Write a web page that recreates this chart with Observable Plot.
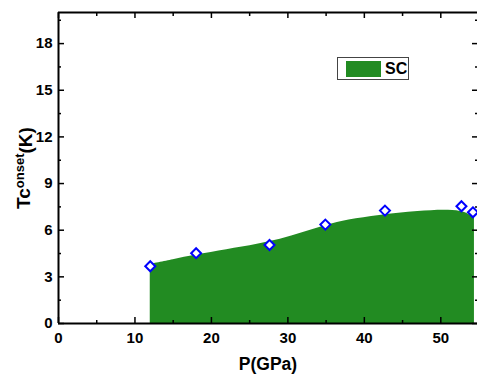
<!DOCTYPE html>
<html>
<head>
<meta charset="utf-8">
<script src="https://cdn.jsdelivr.net/npm/d3@7"></script>
<script src="https://cdn.jsdelivr.net/npm/@observablehq/plot@0.6"></script>
<style>
  body { margin: 0; background: #fff; }
  #wrap { position: relative; width: 477px; height: 376px; font-family: "Liberation Sans", Arial, sans-serif; }
  #legend { position: absolute; left: 337px; top: 57px; width: 72px; height: 23px; border: 1px solid #444; background: #fff; box-sizing: border-box; }
  #legend .sw { position: absolute; left: 8px; top: 3px; width: 35px; height: 16px; background: #228B22; }
  #legend .lb { position: absolute; left: 47px; top: 2px; font-weight: bold; font-size: 16px; line-height: 18px; color: #000; }
</style>
</head>
<body>
<div id="wrap"><div id="legend"><div class="sw"></div><div class="lb">SC</div></div></div>
<script>
// Measured points (diamonds)
const pressure = [12, 18, 27.6, 34.9, 42.7, 52.7, 54.2];
const tcOnset = [3.68, 4.52, 5.05, 6.36, 7.26, 7.54, 7.15];
// SC region boundary (green area)
const scP = [12, 15, 18, 22, 26, 29, 32, 35, 38, 42, 47, 51, 53, 54.4];
const scTc = [3.8, 4.1, 4.4, 4.75, 5.1, 5.42, 5.85, 6.3, 6.65, 6.95, 7.2, 7.28, 7.15, 6.8];
// Axis ticks
const xMajor = [0, 10, 20, 30, 40, 50];
const xMinor = [5, 15, 25, 35, 45];
const yMajor = [0, 3, 6, 9, 12, 15, 18];
const yMinor = [1.5, 4.5, 7.5, 10.5, 13.5, 16.5, 19.5];

const points = pressure.map((p, i) => ({P: p, Tc: tcOnset[i]}));
const area = scP.map((p, i) => ({P: p, Tc: scTc[i]}));
const blank = () => "";
const font = {fontSize: 15, fontWeight: "bold"};

const chart = Plot.plot({
  width: 477,
  height: 376,
  marginLeft: 58,
  marginRight: 0,
  marginTop: 12,
  marginBottom: 53,
  x: {domain: [0, 54.8]},
  y: {domain: [0, 20]},
  style: {fontFamily: "'Liberation Sans', Arial, sans-serif", color: "#000", background: "#fff"},
  marks: [
    Plot.areaY(area, {x: "P", y1: 0, y2: "Tc", fill: "#228B22", curve: "catmull-rom"}),
    // bottom axis
    Plot.axisX(xMajor, {anchor: "bottom", tickSize: -6, tickPadding: 15, strokeWidth: 1.5, label: null, ...font}),
    Plot.axisX(xMinor, {anchor: "bottom", tickSize: -3, strokeWidth: 1.5, tickFormat: blank, label: null}),
    // top axis
    Plot.axisX(xMajor, {anchor: "top", tickSize: -5, strokeWidth: 1.5, tickFormat: blank, label: null}),
    Plot.axisX(xMinor, {anchor: "top", tickSize: -3, strokeWidth: 1.5, tickFormat: blank, label: null}),
    // left axis
    Plot.axisY(yMajor, {anchor: "left", tickSize: -6, tickPadding: 12, strokeWidth: 1.5, label: null, ...font}),
    Plot.axisY(yMinor, {anchor: "left", tickSize: -3, strokeWidth: 1.5, tickFormat: blank, label: null}),
    // right axis
    Plot.axisY(yMajor, {anchor: "right", tickSize: -6, strokeWidth: 1.5, tickFormat: blank, label: null}),
    Plot.axisY(yMinor, {anchor: "right", tickSize: -3, strokeWidth: 1.5, tickFormat: blank, label: null}),
    // frame (left, bottom, top)
    Plot.ruleY([0], {strokeWidth: 2}),
    Plot.ruleY([20], {strokeWidth: 2}),
    Plot.ruleX([0], {strokeWidth: 2}),
    Plot.dot(points, {x: "P", y: "Tc", symbol: "diamond2", r: 4.5, stroke: "#0000ff", strokeWidth: 2, fill: "#fff"}),
    Plot.text(["P(GPa)"], {text: d => d, frameAnchor: "bottom", dy: 46, fontSize: 17.5, fontWeight: "bold"}),
    Plot.text(["Tconset(K)"], {text: d => d, frameAnchor: "left", textAnchor: "middle", dx: -35, rotate: -90, fontSize: 19, fontWeight: "bold"})
  ]
});

// superscript for the y label
d3.select(chart).selectAll("text").filter(function () { return this.textContent === "Tconset(K)"; })
  .each(function () {
    const t = d3.select(this);
    t.text("");
    t.append("tspan").text("Tc");
    t.append("tspan").attr("dy", "-0.42em").attr("font-size", "13px").text("onset");
    t.append("tspan").attr("dy", "0.42em").text("(K)");
  });

document.getElementById("wrap").insertBefore(chart, document.getElementById("legend"));
</script>
</body>
</html>
